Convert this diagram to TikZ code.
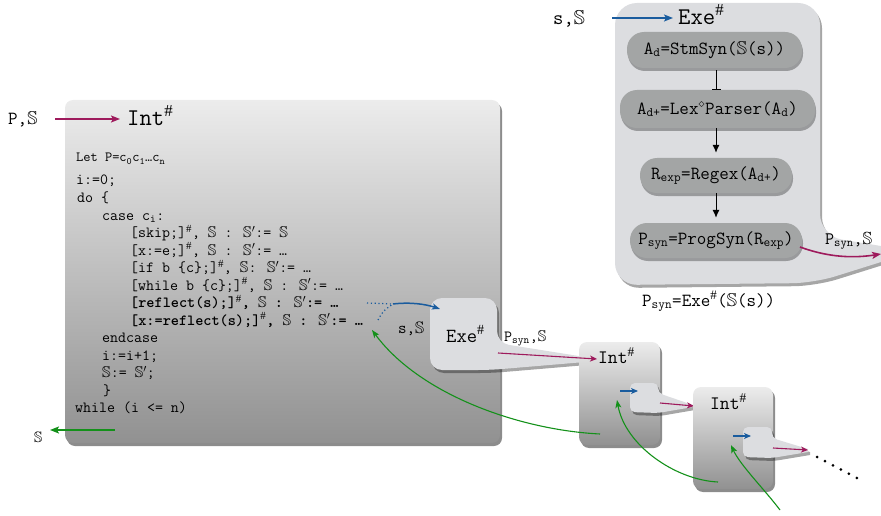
\documentclass[tikz,border=0pt]{standalone}
\usepackage{amssymb}
\usepackage{fontspec}
\setmainfont{Liberation Serif}
\usetikzlibrary{arrows.meta,shadows}
\definecolor{cmaroon}{RGB}{158,26,92}
\definecolor{cblue}{RGB}{26,92,158}
\definecolor{cgreen}{RGB}{20,145,26}
\definecolor{bubble}{RGB}{220,221,224}
\definecolor{pillc}{RGB}{163,165,165}
\definecolor{gtop}{RGB}{236,236,236}
\definecolor{gbot}{RGB}{145,145,145}
\newcommand{\hS}{\ensuremath{\mathbb{S}}}
\newcommand{\hSp}{\ensuremath{\smash{\mathbb{S}'}}}
\newcommand{\shp}{\ensuremath{\smash{^{\#}}}}
\newcommand{\sbs}[1]{\textsubscript{#1}}
\tikzset{
  gbox/.style={shade, top color=gtop, bottom color=gbot, rounded corners=8pt, inner sep=0pt,
    drop shadow={shadow xshift=2pt, shadow yshift=-3pt, opacity=0.45, fill=black}},
  bubshadow/.style={drop shadow={shadow xshift=2pt, shadow yshift=-3pt, opacity=0.35, fill=black}},
  pillbox/.style={fill=pillc, rounded corners=17pt, inner sep=0pt, font=\ttfamily\fontsize{18.5}{20}\selectfont,
    drop shadow={shadow xshift=1pt, shadow yshift=-3pt, opacity=0.3, fill=black}},
  code/.style={anchor=base west, inner sep=0pt, font=\ttfamily\fontsize{15.5}{17}\selectfont},
  codeb/.style={anchor=base west, inner sep=0pt, font=\ttfamily\bfseries\fontsize{15.5}{17}\selectfont},
  lbl/.style={anchor=base west, inner sep=0pt, font=\ttfamily\fontsize{#1}{#1}\selectfont},
  lbl/.default=17,
  arr/.style={-{Stealth[length=9pt,width=7pt,inset=2pt]}, line width=1.6pt},
  sarr/.style={-{Stealth[length=7pt,width=6pt,inset=2pt]}, line width=1.1pt},
  garr/.style={cgreen, line width=1.1pt, -{Stealth[length=8pt,width=6pt,inset=2pt]}},
  blk/.style={line width=1pt},
}
\begin{document}
\begin{tikzpicture}[x=1pt,y=-1pt]
\useasboundingbox (0,0) rectangle (881,516);

% ---------------- Exe# box (top right) ----------------
\path[fill=bubble, bubshadow] [rounded corners=22pt] (615,150) -- (615,3) -- (820,3) -- (820,236)
  [sharp corners] -- (881,246) -- (881,262) [rounded corners=22pt] -- (814,283) -- (615,285) -- cycle;
\node[lbl=20] (sS) at (553,25) {s,\hS};
\node[lbl=24] (exeT) at (678,25) {Exe\shp};
\coordinate (sSa) at (612,18);
\coordinate (sSb) at (673,18);
\draw[cblue, arr] (sSa) -- (sSb);

\node[pillbox, minimum width=175pt, minimum height=36pt] (p1) at (714.5,50) {A\sbs{d}=StmSyn(\hS(s))};
\node[pillbox, minimum width=195pt, minimum height=38pt] (p2) at (717.5,109) {A\sbs{d+}=Lex\ensuremath{^{\diamond}}Parser(A\sbs{d})};
\node[pillbox, minimum width=152pt, minimum height=35pt] (p3) at (716,175.5) {R\sbs{exp}=Regex(A\sbs{d+})};
\node[pillbox, minimum width=172pt, minimum height=35pt] (p4) at (716,240.5) {P\sbs{syn}=ProgSyn(R\sbs{exp})};

\draw[blk, -{Bar[width=9pt,line width=1pt]}, shorten <=2pt] (p1.south -| p3.north) -- (p2.north -| p3.north);
\draw[blk, -{Latex[length=8pt,width=7pt]}, shorten >=5pt] (p2.south -| p3.north) -- (p3.north);
\draw[blk, -{Latex[length=8pt,width=7pt]}, shorten >=5pt] (p3.south) -- (p4.north -| p3.south);

\node[lbl=18.5] (psynlab) at (642,306) {P\sbs{syn}=Exe\shp(\hS(s))};
\node[lbl=17.5] (psynR) at (825,244) {P\sbs{syn},\hS};
\coordinate (pa1) at (800,247);
\coordinate (pa2) at (881,254);
\draw[cmaroon, arr] (pa1) .. controls (830,258) and (855,258) .. (pa2);

% ---------------- main Int# box ----------------
\node[gbox, minimum width=435pt, minimum height=343pt] (intA) at (282.5,271.5) {};
\node[lbl=18.5] (PS) at (8,125) {P,\hS};
\node[lbl=24] (intT) at (127,126) {Int\shp};
\coordinate (pin1) at (55,119);
\coordinate (pin2) at (120,119);
\draw[cmaroon, arr] (pin1) -- (pin2);

\node[code, font=\ttfamily\fontsize{14}{16}\selectfont] (l0) at (76,162) {Let P=c\sbs{0}c\sbs{1}…c\sbs{n}};
\node[code] (l1) at (76,185) {i:=0;};
\node[code] (l2) at (77,202.5) {do \{};
\node[code] (l3) at (102,220) {case c\sbs{i}:};
\node[code] (l4) at (130,237.5) {[skip;]\shp, \hS\ : \hSp:= \hS};
\node[code] (l5) at (130,255) {[x:=e;]\shp, \hS\ : \hSp:= …};
\node[code] (l6) at (130,272.5) {[if b \{c\};]\shp, \hS: \hSp:= …};
\node[code] (l7) at (130,290) {[while b \{c\};]\shp, \hS\ : \hSp:= …};
\node[codeb] (l8) at (130,307.5) {[reflect(s);]\shp, \hS\ : \hSp:= …};
\node[codeb] (l9) at (130,325) {[x:=reflect(s);]\shp, \hS\ : \hSp:= …};
\node[code] (l10) at (102,342.5) {endcase};
\node[code] (l11) at (102,360) {i:=i+1;};
\node[code] (l12) at (102,377.5) {\hS:= \hSp;};
\node[code] (l13) at (103,395) {\}};
\node[code] (l14) at (75,412.5) {while (i <= n)};

\node[anchor=base west, inner sep=0pt, font=\fontsize{15}{15}\selectfont] (Sout) at (34,442) {\hS};
\coordinate (go1) at (115,430);
\coordinate (go2) at (50,430);
\draw[cgreen, arr, line width=2pt] (go1) -- (go2);

% ---------------- middle Exe# bubble ----------------
\path[fill=bubble, bubshadow] [rounded corners=12pt] (430,334) -- (430,298) -- (497,298) -- (497,343)
  [sharp corners] -- (585,357) -- (585,362) [rounded corners=12pt] -- (490,370) -- (430,370) -- cycle;
\node[lbl=20] (exeM) at (446,342) {Exe\shp};
\node[lbl=15.5] (psynM) at (504,341) {P\sbs{syn},\hS};
\node[lbl=16.5] (sM) at (398,333) {s,\hS};

\coordinate (bd1) at (367,303);
\coordinate (bj) at (393,304);
\coordinate (bd2) at (378,320);
\coordinate (bt) at (440,309);
\draw[cblue, line width=1.2pt, dash pattern=on 1.2pt off 2.6pt] (bd1) -- (bj);
\draw[cblue, line width=1.2pt, dash pattern=on 1.2pt off 2.6pt] (bd2) .. controls (383,311) .. (bj);
\draw[cblue, line width=1.5pt, -{Stealth[length=8pt,width=6pt,inset=2pt]}] (bj) .. controls (410,302) and (425,304) .. (bt);

% ---------------- Int# box 2 ----------------
\node[gbox, minimum width=81pt, minimum height=103pt] (int2) at (619.5,393.5) {};
\node[lbl=19] (int2T) at (598,363) {Int\shp};
\coordinate (m1) at (498,353);
\coordinate (m2) at (597,359);
\draw[cmaroon, sarr] (m1) -- (m2);

\path[fill=bubble, bubshadow] [rounded corners=5pt] (630,398) -- (630,383) -- (658,383) -- (658,393)
  [sharp corners] -- (693,405) -- (693,407) [rounded corners=5pt] -- (658,413) -- (630,412) -- cycle;
\coordinate (b2a) at (620,391);
\coordinate (b2b) at (638,391);
\draw[cblue, sarr] (b2a) -- (b2b);
\coordinate (m3) at (660,403);
\coordinate (m4) at (694,406);
\draw[cmaroon, sarr] (m3) -- (m4);

% ---------------- Int# box 3 ----------------
\node[gbox, minimum width=80pt, minimum height=102pt] (int3) at (733,438) {};
\node[lbl=19] (int3T) at (710,409) {Int\shp};
\path[fill=bubble, bubshadow] [rounded corners=5pt] (743,442) -- (743,427) -- (772,427) -- (772,438)
  [sharp corners] -- (808,449) -- (808,452) [rounded corners=5pt] -- (772,458) -- (743,457) -- cycle;
\coordinate (b3a) at (733,436);
\coordinate (b3b) at (751,436);
\draw[cblue, sarr] (b3a) -- (b3b);
\coordinate (m5) at (773,448);
\coordinate (m6) at (808,450);
\draw[cmaroon, sarr] (m5) -- (m6);

\coordinate (dt1) at (817,457);
\coordinate (dt2) at (857,478);
\draw[line width=3pt, line cap=round, dash pattern=on 0pt off 9pt] (dt1) -- (dt2);

% ---------------- green return curves ----------------
\coordinate (g1s) at (600,434);
\coordinate (g1e) at (372,330);
\draw[garr] (g1s) .. controls (520,430) and (420,395) .. (g1e);
\coordinate (g2s) at (718,482);
\coordinate (g2e) at (617,400);
\draw[garr] (g2s) .. controls (675,480) and (625,445) .. (g2e);
\coordinate (g3s) at (780,510);
\coordinate (g3e) at (731,445);
\draw[garr] (g3s) .. controls (765,490) and (740,465) .. (g3e);
\end{tikzpicture}
\end{document}
